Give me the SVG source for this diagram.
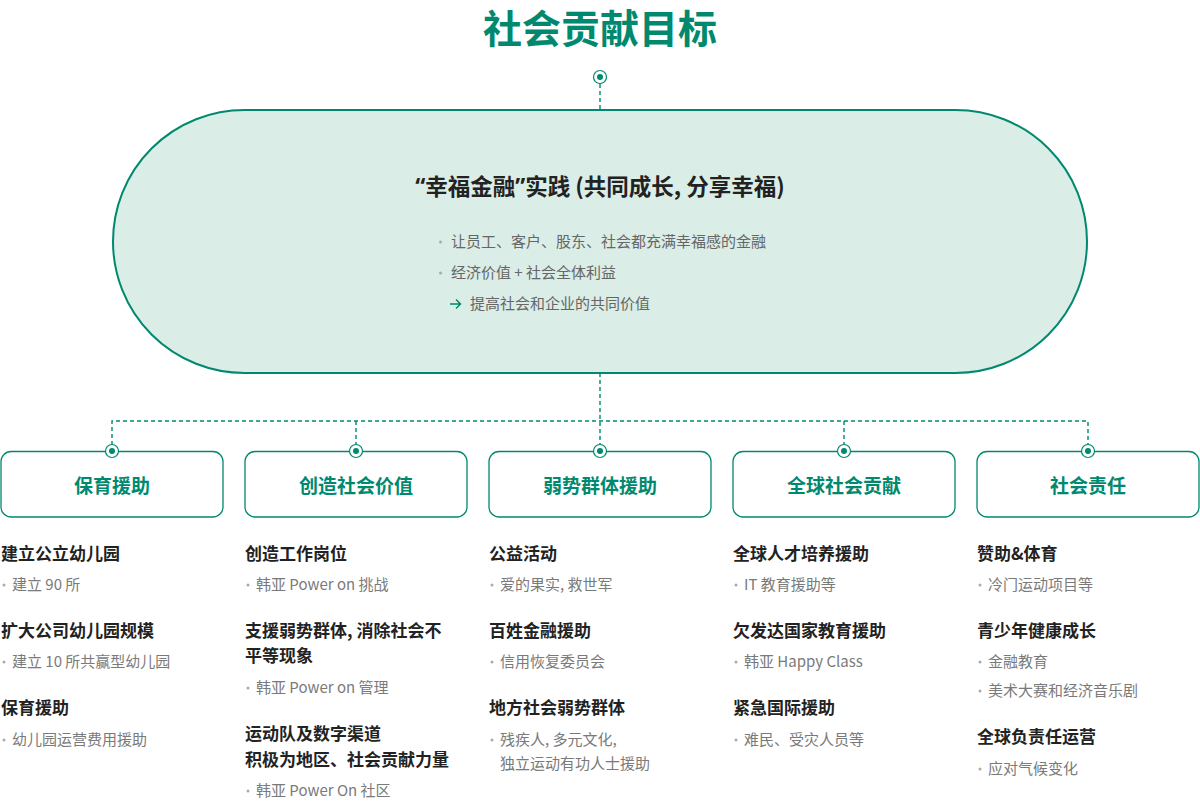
<svg xmlns="http://www.w3.org/2000/svg" width="1200" height="801" viewBox="0 0 1200 801">
<style>
text{font-family:"Noto Sans CJK SC","Noto Sans",sans-serif}
.title{font-size:39px;font-weight:700;fill:#00896e}
.h1{font-size:22.5px;font-weight:700;fill:#222}
.q{font-family:"Noto Sans",sans-serif}
.b1{font-size:15px;fill:#666}
.lbl{font-size:19px;font-weight:700;fill:#00896e}
.hd{font-size:17px;font-weight:700;fill:#222}
.sb{font-size:15px;fill:#7a7a7a}
.box{fill:#fff;stroke:#00896e;stroke-width:1.3}
.dash{fill:none;stroke:#00896e;stroke-width:1.4;stroke-dasharray:4 3}
.ring{fill:#fff;stroke:#00896e;stroke-width:1.2}
.dot{fill:#00896e}
.bul{fill:#aaa}
</style>
<rect width="1200" height="801" fill="#fff"/>
<text class="title" x="600" y="43" text-anchor="middle">社会贡献目标</text>

<g id="connectors">
<line class="dash" x1="600" y1="84" x2="600" y2="110"/>
<line class="dash" x1="600" y1="373" x2="600" y2="445"/>
<polyline class="dash" points="112,445 112,421 1088,421 1088,445"/>
<line class="dash" x1="356" y1="421" x2="356" y2="445"/>
<line class="dash" x1="844" y1="421" x2="844" y2="445"/>
</g>

<g id="top-port">
<circle class="ring" cx="600" cy="77" r="6.5"/>
<circle class="dot" cx="600" cy="77" r="3"/>
</g>

<g id="main">
<rect x="113" y="110" width="974" height="263" rx="131.5" fill="#daede6" stroke="#00896e" stroke-width="2"/>
<text class="h1" x="600" y="195" text-anchor="middle"><tspan class="q">“</tspan>幸福金融<tspan class="q">”</tspan>实践 (共同成长, 分享幸福)</text>
<circle class="bul" cx="440.5" cy="242" r="1.5"/>
<text class="b1" x="451" y="247">让员工、客户、股东、社会都充满幸福感的金融</text>
<circle class="bul" cx="440.5" cy="273" r="1.5"/>
<text class="b1" x="451" y="278">经济价值 + 社会全体利益</text>
<path d="M450 304 H460 M456 299.5 L460.5 304 L456 308.5" fill="none" stroke="#00896e" stroke-width="1.5"/>
<text class="b1" x="470" y="309">提高社会和企业的共同价值</text>
</g>

<g id="n1">
<rect class="box" x="1" y="451.5" width="222" height="65.5" rx="10"/>
<text class="lbl" x="112" y="493" text-anchor="middle">保育援助</text>
<circle class="ring" cx="112" cy="451" r="6.5"/><circle class="dot" cx="112" cy="451" r="3"/>
<text class="hd" x="1" y="560">建立公立幼儿园</text>
<circle class="bul" cx="4" cy="585" r="1.5"/><text class="sb" x="12" y="590">建立 90 所</text>
<text class="hd" x="1" y="637">扩大公司幼儿园规模</text>
<circle class="bul" cx="4" cy="662" r="1.5"/><text class="sb" x="12" y="667">建立 10 所共赢型幼儿园</text>
<text class="hd" x="1" y="714">保育援助</text>
<circle class="bul" cx="4" cy="740" r="1.5"/><text class="sb" x="12" y="745">幼儿园运营费用援助</text>
</g>

<g id="n2">
<rect class="box" x="245" y="451.5" width="222" height="65.5" rx="10"/>
<text class="lbl" x="356" y="493" text-anchor="middle">创造社会价值</text>
<circle class="ring" cx="356" cy="451" r="6.5"/><circle class="dot" cx="356" cy="451" r="3"/>
<text class="hd" x="245" y="560">创造工作岗位</text>
<circle class="bul" cx="248" cy="585" r="1.5"/><text class="sb" x="256" y="590">韩亚 Power on 挑战</text>
<text class="hd" x="245" y="637">支援弱势群体, 消除社会不</text>
<text class="hd" x="245" y="662">平等现象</text>
<circle class="bul" cx="248" cy="688" r="1.5"/><text class="sb" x="256" y="693">韩亚 Power on 管理</text>
<text class="hd" x="245" y="740">运动队及数字渠道</text>
<text class="hd" x="245" y="766">积极为地区、社会贡献力量</text>
<circle class="bul" cx="248" cy="791" r="1.5"/><text class="sb" x="256" y="796">韩亚 Power On 社区</text>
</g>

<g id="n3">
<rect class="box" x="489" y="451.5" width="222" height="65.5" rx="10"/>
<text class="lbl" x="600" y="493" text-anchor="middle">弱势群体援助</text>
<circle class="ring" cx="600" cy="451" r="6.5"/><circle class="dot" cx="600" cy="451" r="3"/>
<text class="hd" x="489" y="560">公益活动</text>
<circle class="bul" cx="492" cy="585" r="1.5"/><text class="sb" x="500" y="590">爱的果实, 救世军</text>
<text class="hd" x="489" y="637">百姓金融援助</text>
<circle class="bul" cx="492" cy="662" r="1.5"/><text class="sb" x="500" y="667">信用恢复委员会</text>
<text class="hd" x="489" y="714">地方社会弱势群体</text>
<circle class="bul" cx="492" cy="740" r="1.5"/><text class="sb" x="500" y="745">残疾人, 多元文化,</text>
<text class="sb" x="500" y="769">独立运动有功人士援助</text>
</g>

<g id="n4">
<rect class="box" x="733" y="451.5" width="222" height="65.5" rx="10"/>
<text class="lbl" x="844" y="493" text-anchor="middle">全球社会贡献</text>
<circle class="ring" cx="844" cy="451" r="6.5"/><circle class="dot" cx="844" cy="451" r="3"/>
<text class="hd" x="733" y="560">全球人才培养援助</text>
<circle class="bul" cx="736" cy="585" r="1.5"/><text class="sb" x="744" y="590">IT 教育援助等</text>
<text class="hd" x="733" y="637">欠发达国家教育援助</text>
<circle class="bul" cx="736" cy="662" r="1.5"/><text class="sb" x="744" y="667">韩亚 Happy Class</text>
<text class="hd" x="733" y="714">紧急国际援助</text>
<circle class="bul" cx="736" cy="740" r="1.5"/><text class="sb" x="744" y="745">难民、受灾人员等</text>
</g>

<g id="n5">
<rect class="box" x="977" y="451.5" width="222" height="65.5" rx="10"/>
<text class="lbl" x="1088" y="493" text-anchor="middle">社会责任</text>
<circle class="ring" cx="1088" cy="451" r="6.5"/><circle class="dot" cx="1088" cy="451" r="3"/>
<text class="hd" x="977" y="560">赞助&amp;体育</text>
<circle class="bul" cx="980" cy="585" r="1.5"/><text class="sb" x="988" y="590">冷门运动项目等</text>
<text class="hd" x="977" y="637">青少年健康成长</text>
<circle class="bul" cx="980" cy="662" r="1.5"/><text class="sb" x="988" y="667">金融教育</text>
<circle class="bul" cx="980" cy="691" r="1.5"/><text class="sb" x="988" y="696">美术大赛和经济音乐剧</text>
<text class="hd" x="977" y="743">全球负责任运营</text>
<circle class="bul" cx="980" cy="769" r="1.5"/><text class="sb" x="988" y="774">应对气候变化</text>
</g>
</svg>
